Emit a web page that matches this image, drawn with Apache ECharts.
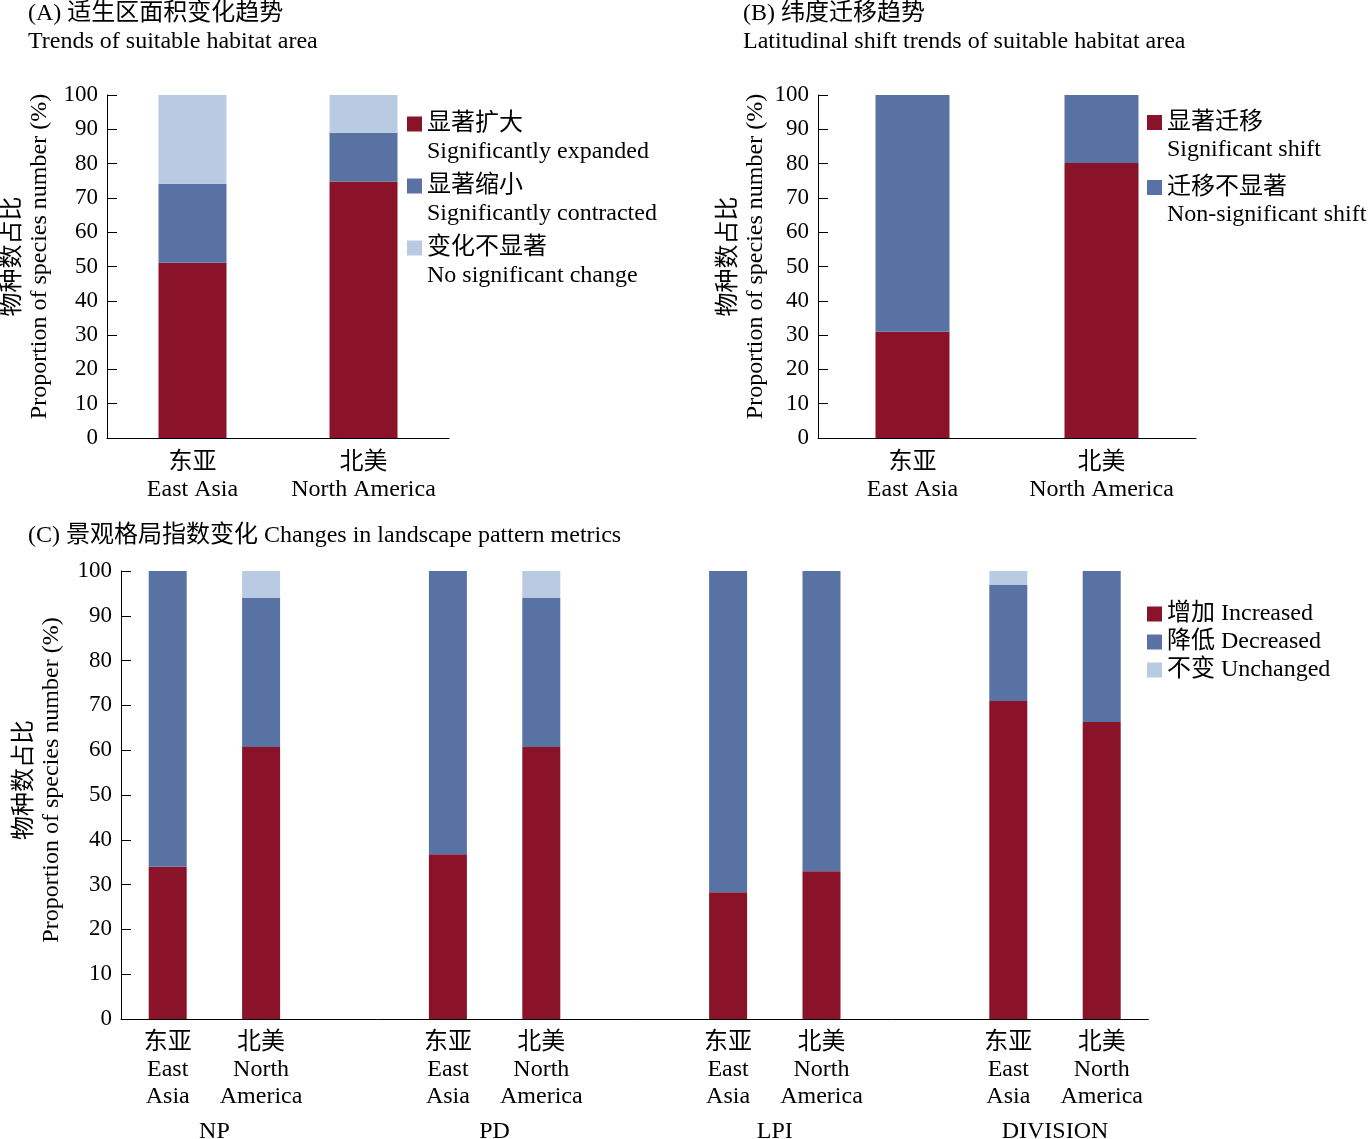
<!DOCTYPE html>
<html>
<head>
<meta charset="utf-8">
<script src="https://cdn.jsdelivr.net/npm/echarts@6/dist/echarts.min.js"></script>
<style>
html, body { margin: 0; padding: 0; background: #fff; }
#chart { width: 1369px; height: 1139px; }
</style>
</head>
<body>
<div id="chart"></div>
<script>
// (A) suitable habitat area
const regionsA = ['东亚\nEast Asia', '北美\nNorth America'];
const namesA = ['显著扩大\nSignificantly expanded', '显著缩小\nSignificantly contracted', '变化不显著\nNo significant change'];
const expanded = [51.1, 74.8];
const contracted = [23.0, 14.2];
const noChange = [25.9, 11.0];

// (B) latitudinal shift
const regionsB = ['东亚\nEast Asia', '北美\nNorth America'];
const namesB = ['显著迁移\nSignificant shift', '迁移不显著\nNon-significant shift'];
const shifted = [31.0, 80.2];
const notShifted = [69.0, 19.8];

// (C) landscape metrics, order: NP 东亚, NP 北美, PD 东亚, PD 北美, LPI .., DIVISION ..
const metrics = ['NP', 'PD', 'LPI', 'DIVISION'];
const regionsC = ['东亚\nEast\nAsia', '北美\nNorth\nAmerica'];
const namesC = ['增加 Increased', '降低 Decreased', '不变 Unchanged'];
const increased = [34.0, 60.7, 36.8, 60.7, 28.3, 33.0, 71.0, 66.3];
const decreased = [66.0, 33.3, 63.2, 33.3, 71.7, 67.0, 25.9, 33.7];
const unchanged = [0, 6.0, 0, 6.0, 0, 0, 3.1, 0];

const RED = '#8b1329';
const BLUE = '#5872a3';
const LIGHT = '#b9cbe2';
const FONT = '"Liberation Serif", "Times New Roman", "Noto Sans CJK SC", serif';
const yName = '物种数占比\nProportion of species number (%)';

// category list for C with an empty slot between metric groups
const catC = [];
const groupAt = {};
metrics.forEach((m, i) => {
	regionsC.forEach(r => catC.push(m + '|' + r));
	groupAt[i * 3 + 1] = m;
	if (i < metrics.length - 1) catC.push(m + '|');
});
const withGaps = (arr) => {
	let out = [];
	arr.forEach((v, i) => {
		out.push(v);
		if (i % 2 === 1 && i < arr.length - 1) out.push('-');
	});
	return out;
};

const txt = (size, lh) => ({ fontFamily: FONT, fontSize: size, lineHeight: lh, color: '#000' });

function yAxisFor (gridIndex, nameGap, shift) {
	return {
		type: 'value', gridIndex: gridIndex, min: 0, max: 100, interval: 10,
		name: yName, nameLocation: 'middle', nameGap: nameGap,
		nameTextStyle: Object.assign(txt(24, 27), { padding: [0, 0, 0, shift] }),
		axisLine: { show: true, lineStyle: { color: '#000', width: 1 } },
		axisTick: { show: true, inside: true, length: 10, lineStyle: { color: '#000' } },
		axisLabel: Object.assign(txt(23, 24), { margin: 9 }),
		splitLine: { show: false }
	};
};

function xAxisFor (gridIndex, data, margin) {
	return {
		type: 'category', gridIndex: gridIndex, data: data,
		axisLine: { show: true, lineStyle: { color: '#000', width: 1 } },
		axisTick: { show: false },
		axisLabel: Object.assign(txt(24, 27), {
			margin: margin, interval: 0,
			formatter: (v) => v.indexOf('|') >= 0 ? v.split('|')[1] : v
		}),
		splitLine: { show: false }
	};
};

function bar (name, xi, stack, width, data, color) {
	return {
		name: name, type: 'bar', xAxisIndex: xi, yAxisIndex: xi > 2 ? 2 : xi,
		stack: stack, barWidth: width, data: data,
		itemStyle: { color: color }, emphasis: { disabled: true }
	};
};

// blank first line keeps the swatch level with the Chinese line
const twoLine = (name) => ' \n' + name;

const chart = echarts.init(document.getElementById('chart'));

chart.setOption({
	animation: false,
	backgroundColor: '#fff',
	title: [
		{ text: '(A) 适生区面积变化趋势\nTrends of suitable habitat area', left: 28, top: 0, padding: 0,
			textStyle: Object.assign(txt(24, 28), { fontWeight: 'normal' }) },
		{ text: '(B) 纬度迁移趋势\nLatitudinal shift trends of suitable habitat area', left: 743, top: 0, padding: 0,
			textStyle: Object.assign(txt(24, 28), { fontWeight: 'normal' }) },
		{ text: '(C) 景观格局指数变化 Changes in landscape pattern metrics', left: 28, top: 522, padding: 0,
			textStyle: Object.assign(txt(24, 28), { fontWeight: 'normal' }) }
	],
	legend: [
		{ data: namesA, orient: 'vertical', left: 407, top: 82, padding: 0, icon: 'rect',
			itemWidth: 15, itemHeight: 15, itemGap: -22, formatter: twoLine,
			textStyle: txt(24, 28) },
		{ data: namesB, orient: 'vertical', left: 1147, top: 82, padding: 0, icon: 'rect',
			itemWidth: 15, itemHeight: 15, itemGap: -16, formatter: twoLine,
			textStyle: txt(24, 27) },
		{ data: namesC, orient: 'vertical', left: 1147, top: 602, padding: 0, icon: 'rect',
			itemWidth: 15, itemHeight: 15, itemGap: 4,
			textStyle: txt(24, 24) }
	],
	grid: [
		{ left: 107, top: 95, width: 342, height: 343, containLabel: false, outerBoundsMode: 'none' },
		{ left: 818, top: 95, width: 378, height: 343, containLabel: false, outerBoundsMode: 'none' },
		{ left: 121, top: 571, width: 1027.4, height: 448, containLabel: false, outerBoundsMode: 'none' }
	],
	xAxis: [
		xAxisFor(0, regionsA, 11),
		xAxisFor(1, regionsB, 11),
		xAxisFor(2, catC, 10),
		{
			type: 'value', gridIndex: 2, position: 'bottom', min: 0, max: 11, interval: 1,
			axisLine: { show: false }, axisTick: { show: false }, splitLine: { show: false },
			axisLabel: Object.assign(txt(24, 27), {
				margin: 99, showMinLabel: true, showMaxLabel: true,
				formatter: (v) => groupAt[v] || ''
			})
		}
	],
	yAxis: [
		yAxisFor(0, 54, 20),
		yAxisFor(1, 49, 20),
		yAxisFor(2, 56, 30)
	],
	series: [
		bar(namesA[0], 0, 'a', 68, expanded, RED),
		bar(namesA[1], 0, 'a', 68, contracted, BLUE),
		bar(namesA[2], 0, 'a', 68, noChange, LIGHT),
		bar(namesB[0], 1, 'b', 74, shifted, RED),
		bar(namesB[1], 1, 'b', 74, notShifted, BLUE),
		bar(namesC[0], 2, 'c', 38, withGaps(increased), RED),
		bar(namesC[1], 2, 'c', 38, withGaps(decreased), BLUE),
		bar(namesC[2], 2, 'c', 38, withGaps(unchanged), LIGHT)
	]
});
</script>
</body>
</html>
